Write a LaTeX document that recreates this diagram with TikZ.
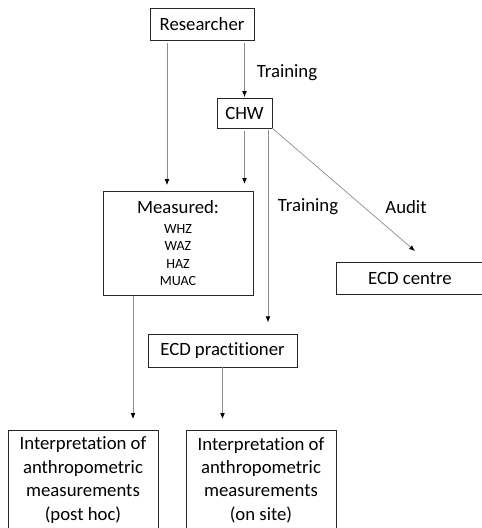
\documentclass[tikz,border=0pt]{standalone}
\usepackage{fontspec}
\setmainfont[Ligatures=NoCommon]{Carlito}
\usepackage{tikz}
\usetikzlibrary{arrows.meta}

\newcommand{\smallz}{\fontsize{12}{15}\selectfont}

\begin{document}
\begin{tikzpicture}[x=0.03cm, y=-0.03cm, outer sep = 0pt]

\tikzstyle{box}=[draw=black!85, line width=0.6pt, rectangle, align=center, font=\fontsize{16}{20}\selectfont]
\tikzstyle{link}=[draw=black!45, line width=0.6pt, -{Latex[black, length=5pt, width=4pt]}]
\tikzstyle{lbl}=[font=\fontsize{16}{20}\selectfont]

\clip (0,0) rectangle (482,528);
\useasboundingbox (0,0) rectangle (482,528);

\node[box, minimum width=3.12cm, minimum height=0.96cm] (res) at (202,24) {Researcher};
\node[box, minimum width=1.65cm, minimum height=0.9cm] (chw) at (244.5,113) {CHW};
\node[box, minimum width=4.5cm, minimum height=3.12cm] (meas) at (178,243) {Measured:\\[-3pt]
  \smallz WHZ\\[-5pt] \smallz WAZ\\[-5pt] \smallz HAZ\\[-5pt] \smallz MUAC};
\node[box, minimum width=4.44cm, minimum height=0.96cm] (cen) at (410,278) {ECD centre};
\node[box, minimum width=4.47cm, minimum height=0.99cm] (prac) at (222.5,350.5) {ECD practitioner};
\node[box, minimum width=4.5cm, minimum height=3cm, anchor=north] (post) at (83,430) {Interpretation of\\anthropometric\\measurements\\(post hoc)};
\node[box, minimum width=4.5cm, minimum height=3cm, anchor=north] (site) at (261,430) {Interpretation of\\anthropometric\\measurements\\(on site)};

\node[lbl] (tr1) at (287,73) {Training};
\node[lbl] (tr2) at (308,207) {Training};
\node[lbl] (aud) at (406,207) {Audit};

% connectors
\draw[link, shorten <=2.6pt, shorten >=5.1pt] ([xshift=0.51cm]res.south west) -- ([xshift=0.51cm]res.south west |- meas.north);
\draw[link, shorten <=2.6pt, shorten >=0.8pt] (res.south -| chw.north) -- (chw.north);
\draw[link, shorten <=2.6pt, shorten >=6pt] (chw.south) -- (chw.south |- meas.north);
\draw[link, shorten <=1.7pt, shorten >=10pt] ([xshift=-0.12cm]chw.south east) -- ([xshift=-0.12cm]chw.south east |- prac.north);
\draw[link] (chw.south east) -- ([xshift=0.15cm, yshift=0.33cm]cen.north);
\draw[link, shorten <=0.8pt, shorten >=9.4pt] ([xshift=0.9cm]meas.south west) -- ([xshift=0.9cm]meas.south west |- post.north);
\draw[link, shorten >=9.4pt] (prac.south) -- (prac.south |- site.north);

\end{tikzpicture}
\end{document}
